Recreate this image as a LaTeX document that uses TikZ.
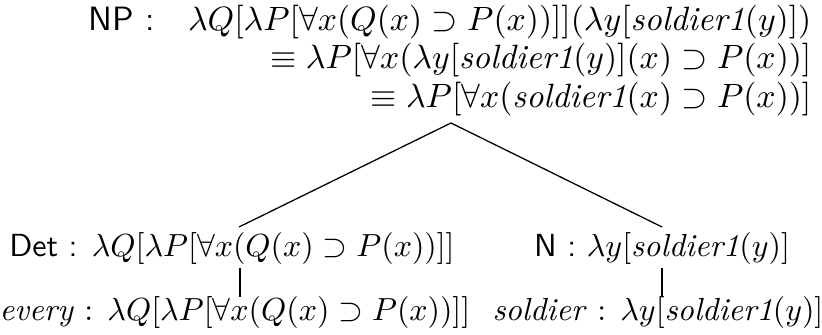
\documentclass[tikz,border=0pt]{standalone}
\usepackage{amsmath,amssymb}
\usepackage{tikz}

\newcommand{\sold}{\textit{soldier1}}

\begin{document}
\begin{tikzpicture}[x=0.313pt,y=-0.313pt]
\tikzset{treeline/.style={line width=0.4pt},
	lexline/.style={line width=0.7pt},
	sem/.style={inner sep=0pt},
	topsem/.style={sem, anchor=base east, scale=1.055, transform shape}}
\useasboundingbox (0,0) rectangle (822,335);

% NP and its two reductions
\node[topsem] (np) at (812,31) {\textsf{NP :}\enspace\, $\lambda Q[\lambda P[\forall x(Q(x)\supset P(x))]](\lambda y[\sold(y)])$};
\node[topsem] (np2) at (812,69) {$\equiv \lambda P[\forall x(\lambda y[\sold(y)](x)\supset P(x))]$};
\node[topsem] (np3) at (812,108) {$\equiv \lambda P[\forall x(\sold(x)\supset P(x))]$};
\coordinate (apex) at (451,123);

% daughters
\node[sem, anchor=base] (det) at (232,257) {\textsf{Det :} $\lambda Q[\lambda P[\forall x(Q(x)\supset P(x))]]$};
\node[sem, anchor=base] (n) at (662,257) {\textsf{N :} $\lambda y[\sold(y)]$};
\node[sem, anchor=base] (every) at (235,321) {\textit{every} : $\lambda Q[\lambda P[\forall x(Q(x)\supset P(x))]]$};
\node[sem, anchor=base] (soldier) at (658,321) {\textit{soldier} : $\lambda y[\sold(y)]$};

\coordinate (detup) at (239,227);
\coordinate (nup) at (662,227);
\coordinate (detdown) at (240,268);
\coordinate (everyup) at (240,297);
\coordinate (ndown) at (662,268);
\coordinate (soldierup) at (662,297);
\draw[treeline] (apex) -- (detup);
\draw[treeline] (apex) -- (nup);
\draw[lexline] (detdown) -- (everyup);
\draw[lexline] (ndown) -- (soldierup);
\end{tikzpicture}
\end{document}
